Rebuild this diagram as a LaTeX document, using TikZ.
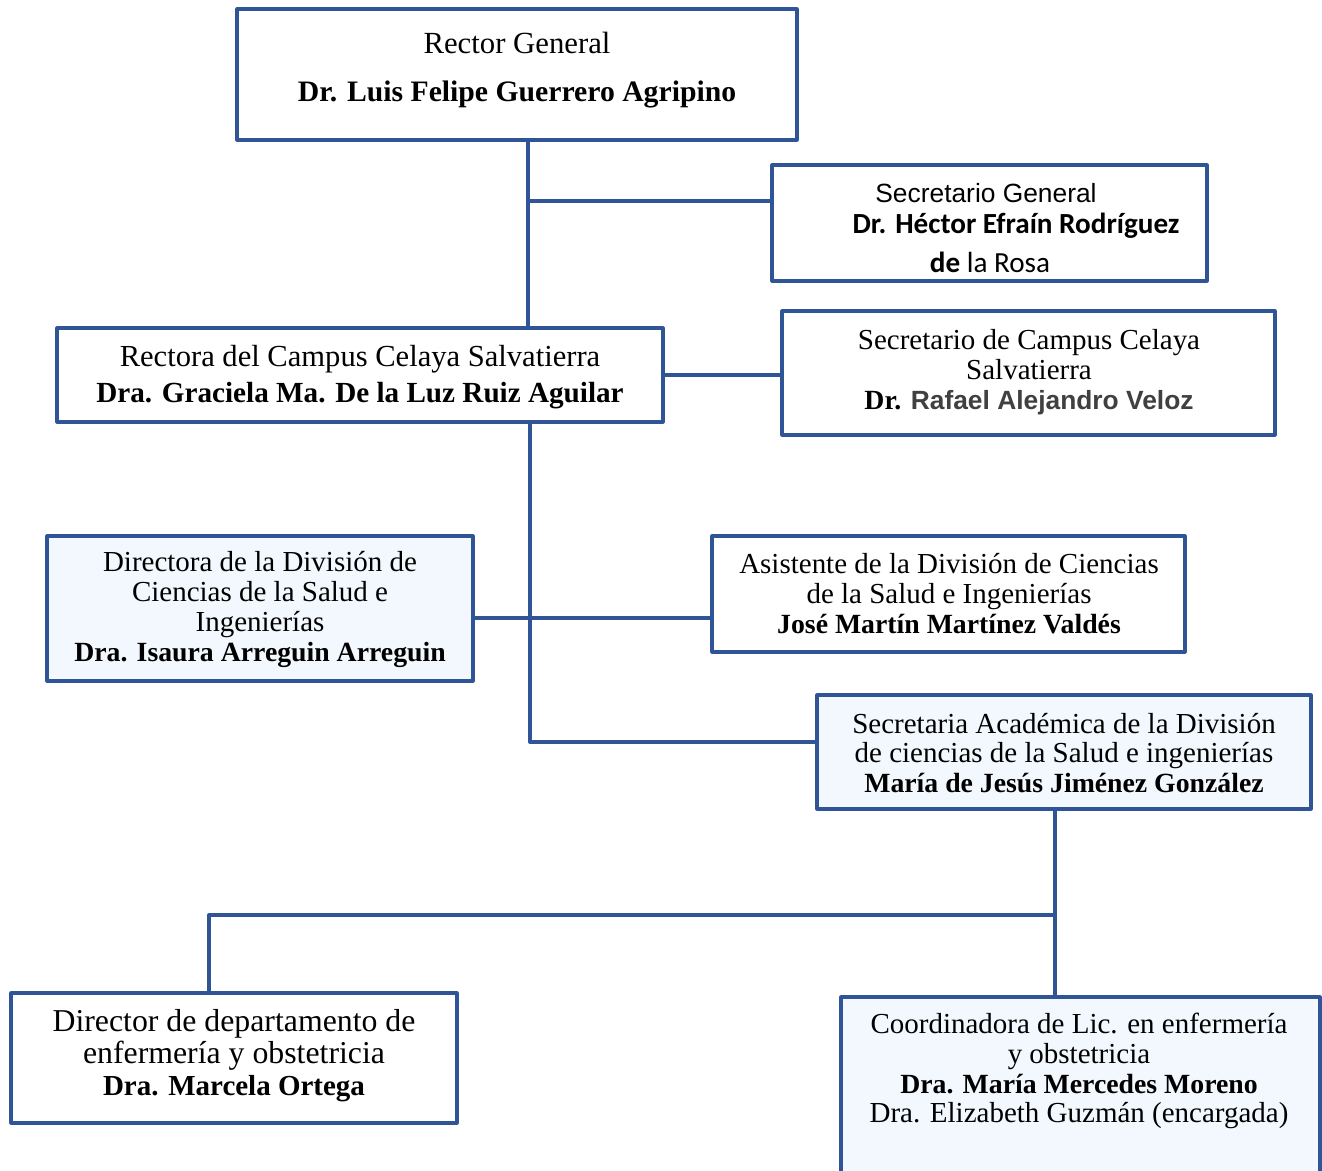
\documentclass[tikz,border=0pt]{standalone}
\usepackage{fontspec}
\setmainfont{Liberation Serif}
\newfontfamily\arialf{Liberation Sans}
\newfontfamily\calibrif{Carlito}
\definecolor{borde}{RGB}{47,85,151}
\definecolor{celeste}{RGB}{242,248,253}
\definecolor{grisosc}{RGB}{64,64,64}
\newcommand{\nb}[1]{{\fontsize{15.8}{17}\selectfont\bfseries #1}}
\begin{document}
\begin{tikzpicture}[x=0.02cm,y=-0.02cm,line join=round,
	caja/.style={draw=borde,line width=1.8pt,fill=white,inner sep=0pt},
	azul/.style={caja,fill=celeste},
	txt/.style={align=center,inner sep=0pt,font=\fontsize{16.5}{17}\selectfont},
	enlace/.style={draw=borde,line width=1.9pt}]
\useasboundingbox (0,0) rectangle (1322,1170);
\clip (0,0) rectangle (1322,1170);
	\node[caja,minimum width=11.2cm,minimum height=2.62cm] (rector) at (517,74.5) {};
	\node[caja,minimum width=8.7cm,minimum height=2.32cm] (secgen) at (989.5,223) {};
	\node[caja,minimum width=12.12cm,minimum height=1.88cm] (rectora) at (360,375) {};
	\node[caja,minimum width=9.86cm,minimum height=2.48cm] (seccamp) at (1028.5,373) {};
	\node[azul,minimum width=8.52cm,minimum height=2.9cm] (directora) at (260,608.5) {};
	\node[caja,minimum width=9.46cm,minimum height=2.32cm] (asistente) at (948.5,594) {};
	\node[azul,minimum width=9.88cm,minimum height=2.28cm] (secacad) at (1064,752) {};
	\node[caja,minimum width=8.92cm,minimum height=2.6cm] (director) at (234,1058) {};
	\node[azul,minimum width=9.58cm,minimum height=3.86cm] (coord) at (1080.5,1093.5) {};
	% textos
	\node[txt] (rector-t) at (517,70) {{\fontsize{17.5}{17}\selectfont Rector General}\\[10pt]
		{\fontsize{16.9}{17}\selectfont\bfseries Dr. Luis Felipe Guerrero Agripino}};
	\node[txt,font=\arialf\fontsize{15}{17}\selectfont] (secgen-a) at (986,193) {Secretario General};
	\node[txt,font=\calibrif\fontsize{16.6}{17}\selectfont\bfseries] (secgen-b) at (1016,226) {Dr. Héctor Efraín Rodríguez};
	\node[txt,font=\calibrif\fontsize{16.6}{17}\selectfont] (secgen-c) at (990,262) {\textbf{de} la Rosa};
	\node[txt,font=\fontsize{17.4}{17}\selectfont] (rectora-t) at (360,377.5) {Rectora del Campus Celaya Salvatierra\\[3.5pt]
		{\fontsize{16.6}{17}\selectfont\bfseries Dra. Graciela Ma. De la Luz Ruiz Aguilar}};
	\node[txt] (seccamp-t) at (1029,372) {Secretario de Campus Celaya\\Salvatierra\\
		\nb{Dr.} {\arialf\bfseries\color{grisosc}\fontsize{15}{17}\selectfont Rafael Alejandro Veloz}};
	\node[txt] (directora-t) at (260,609.5) {Directora de la División de\\Ciencias de la Salud e\\Ingenierías\\
		\nb{Dra. Isaura Arreguin Arreguin}};
	\node[txt] (asistente-t) at (949,593.5) {Asistente de la División de Ciencias\\de la Salud e Ingenierías\\
		\nb{José Martín Martínez Valdés}};
	\node[txt] (secacad-t) at (1064,753) {Secretaria Académica de la División\\de ciencias de la Salud e ingenierías\\
		\nb{María de Jesús Jiménez González}};
	\node[txt,font=\fontsize{18.1}{18.2}\selectfont] (director-t) at (234,1055.5) {Director de departamento de\\enfermería y obstetricia\\
		{\fontsize{16.5}{18.2}\selectfont\bfseries Dra. Marcela Ortega}};
	\node[txt] (coord-t) at (1079,1071) {Coordinadora de Lic. en enfermería\\y obstetricia\\
		\nb{Dra. María Mercedes Moreno}\\Dra. Elizabeth Guzmán (encargada)};
	% lineas
	\coordinate (tronco) at (528,201);
	\coordinate (cruce) at (530,618);
	\coordinate (eje) at (530,742);
	\coordinate (nudo) at (1055,915);
	\coordinate (codo) at (209,915);
	\draw[enlace] (rector.south -| tronco) -- (rectora.north -| tronco);
	\draw[enlace] (tronco) -- (tronco -| secgen.west);
	\draw[enlace] (rectora.east) -- (rectora.east -| seccamp.west);
	\draw[enlace] (rectora.south -| eje) -- (eje) -- (eje -| secacad.west);
	\draw[enlace] (cruce -| directora.east) -- (cruce -| asistente.west);
	\draw[enlace] (secacad.south -| nudo) -- (coord.north -| nudo);
	\draw[enlace] (nudo) -- (codo) -- (codo |- director.north);
\end{tikzpicture}
\end{document}
